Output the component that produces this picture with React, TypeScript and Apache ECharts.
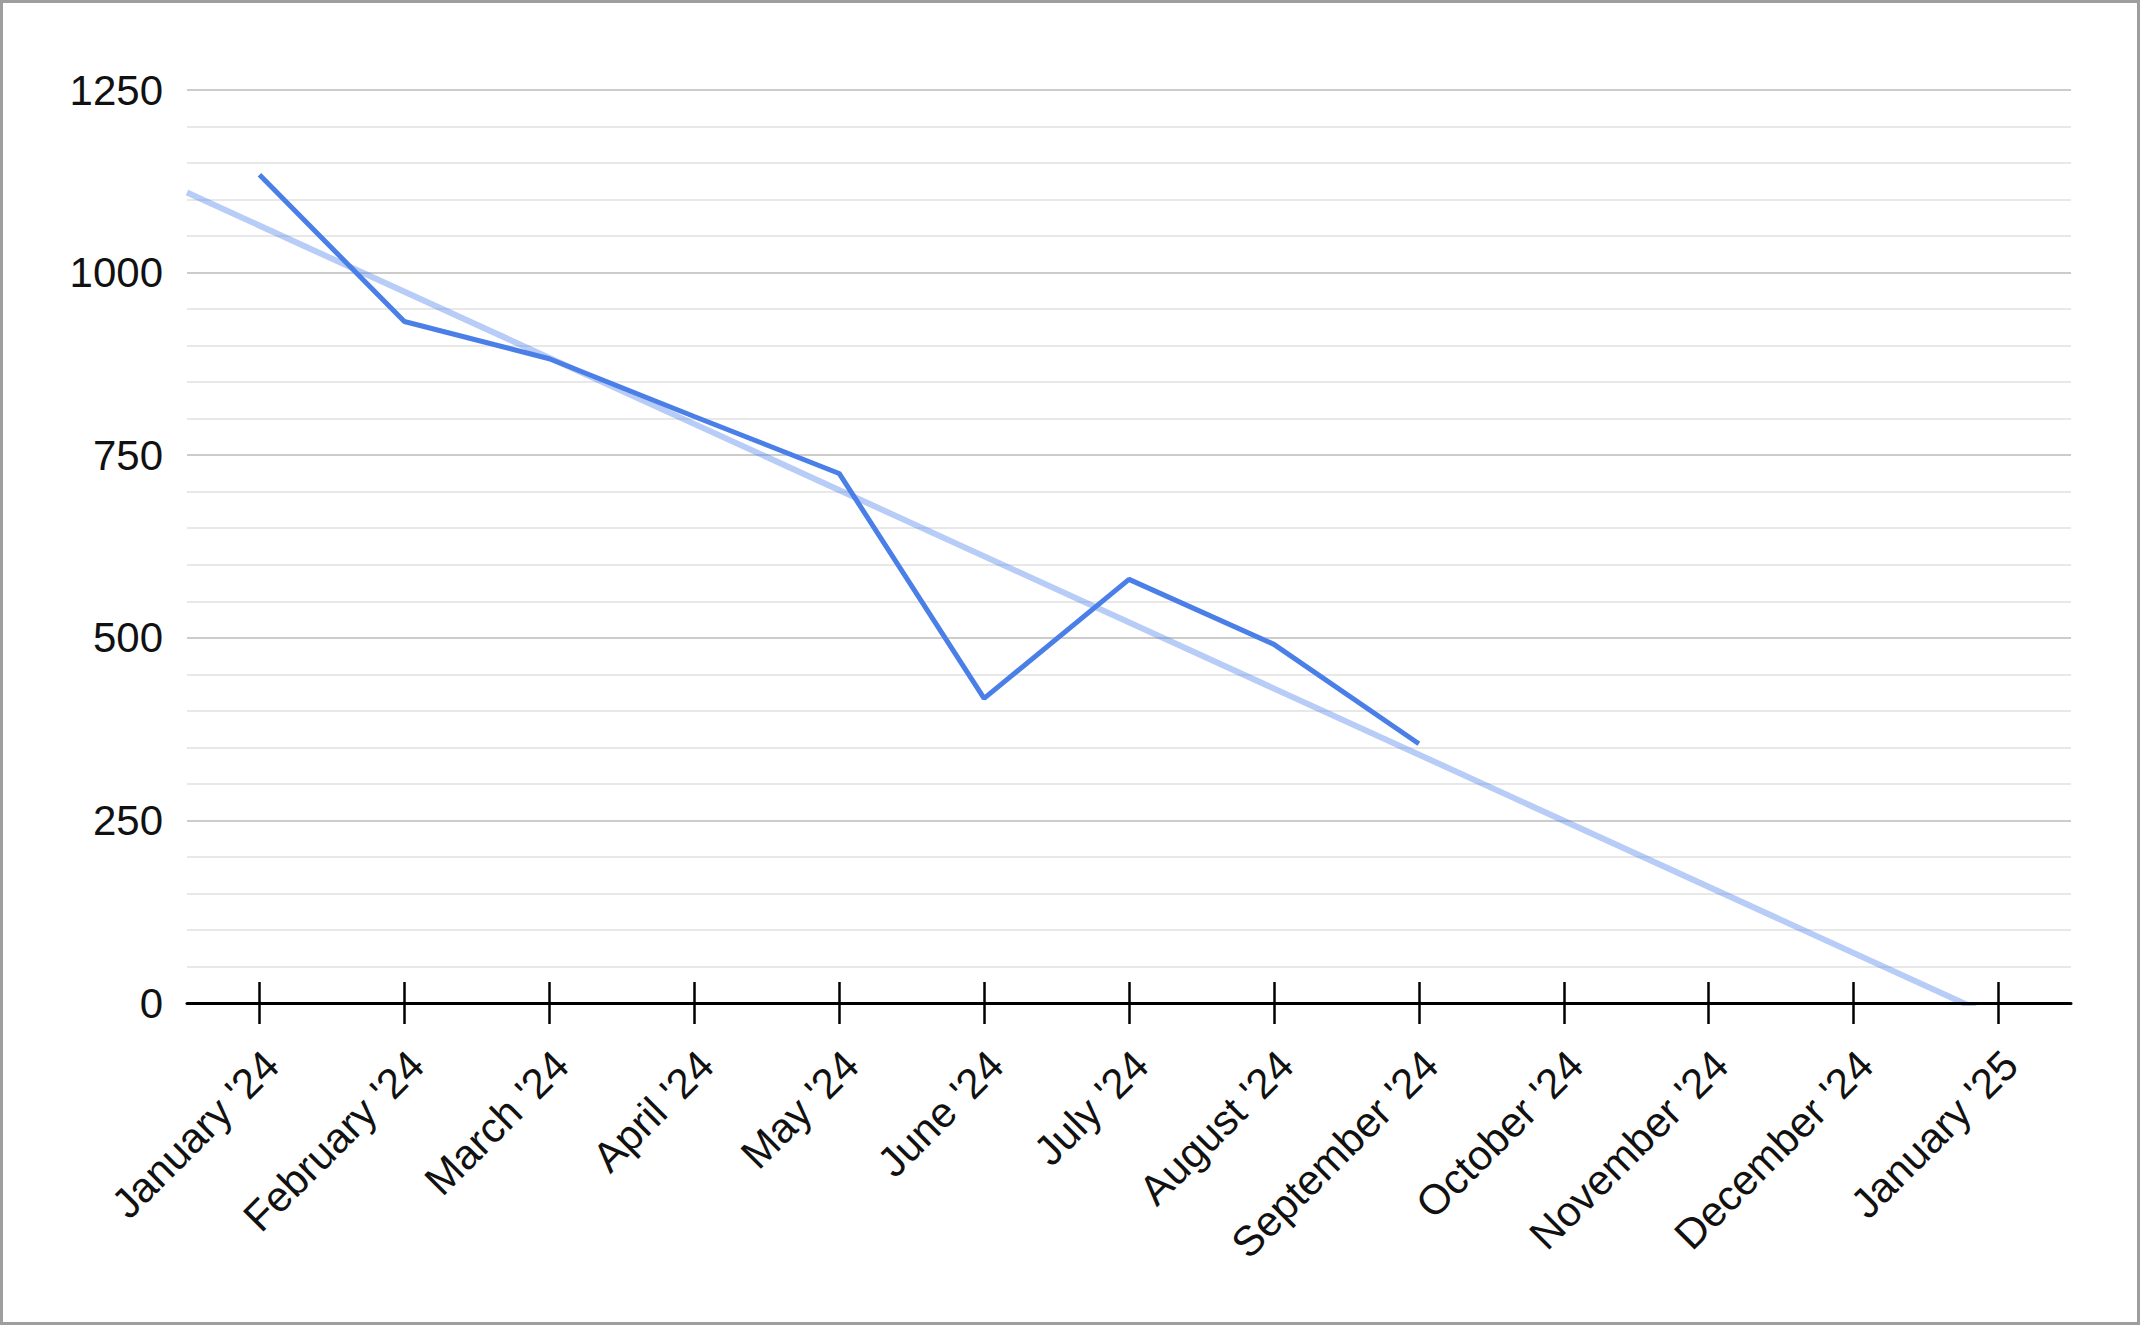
import React, { useEffect, useRef } from "react";
import * as echarts from "echarts";

const categories = [
  "January '24",
  "February '24",
  "March '24",
  "April '24",
  "May '24",
  "June '24",
  "July '24",
  "August '24",
  "September '24",
  "October '24",
  "November '24",
  "December '24",
  "January '25",
];
const values = [1134, 933, 882, 803, 725, 417, 580, 491, 355];
const yMin = 0;
const yMax = 1250;
const yStep = 250;

// Linear least-squares trendline over the month index, as the source chart shows
function trendPoints(): number[][] {
  const n = values.length;
  const mx = (n - 1) / 2;
  const my = values.reduce((a, b) => a + b, 0) / n;
  let sxy = 0;
  let sxx = 0;
  values.forEach((v, i) => {
    sxy += (i - mx) * (v - my);
    sxx += (i - mx) * (i - mx);
  });
  const slope = sxy / sxx;
  const b = my - slope * mx;
  const x0 = -0.5;
  const x1 = categories.length - 0.5;
  return [
    [x0, b + slope * x0],
    [x1, b + slope * x1],
  ];
}

const FONT = "'Liberation Sans', Arial, Helvetica, sans-serif";
const BLUE = "#4a7fe8";
const TEXT = "#111111";

export default function App() {
  const ref = useRef<HTMLDivElement>(null);
  useEffect(() => {
    if (!ref.current) return;
    const chart = echarts.init(ref.current, undefined, { renderer: "svg" });
    chart.setOption({
      animation: false,
      backgroundColor: "#ffffff",
      textStyle: { fontFamily: FONT },
      grid: { left: 187, right: 71, top: 90, bottom: 323, containLabel: false },
      xAxis: [
        {
          type: "category",
          data: categories,
          position: "bottom",
          boundaryGap: true,
          axisLine: { show: true, lineStyle: { color: "#000000", width: 3 } },
          axisTick: {
            show: true,
            alignWithLabel: true,
            length: 21,
            lineStyle: { color: "#000000", width: 2.5 },
          },
          axisLabel: {
            show: true,
            interval: 0,
            rotate: 45,
            margin: 67,
            padding: [0, -17, 0, 0],
            fontSize: 42,
            color: TEXT,
            fontFamily: FONT,
          },
          splitLine: { show: false },
          z: 5,
        },
        {
          type: "category",
          data: categories,
          position: "bottom",
          boundaryGap: true,
          axisLine: { show: false },
          axisTick: {
            show: true,
            inside: true,
            alignWithLabel: true,
            length: 21,
            lineStyle: { color: "#000000", width: 2.5 },
          },
          axisLabel: { show: false },
          splitLine: { show: false },
          z: 5,
        },
        {
          type: "value",
          min: -0.5,
          max: categories.length - 0.5,
          show: false,
          position: "bottom",
          splitLine: { show: false },
        },
      ],
      yAxis: {
        type: "value",
        min: yMin,
        max: yMax,
        interval: yStep,
        axisLine: { show: false },
        axisTick: { show: false },
        axisLabel: {
          fontSize: 42,
          margin: 24,
          color: TEXT,
          fontFamily: FONT,
          formatter: (v: number) => String(v),
        },
        splitLine: { show: true, lineStyle: { color: "#cccccc", width: 2 } },
        minorTick: { show: false, splitNumber: 5 },
        minorSplitLine: { show: true, lineStyle: { color: "#e8e8e8", width: 2 } },
      },
      series: [
        {
          name: "Trendline",
          type: "line",
          xAxisIndex: 2,
          data: trendPoints(),
          symbol: "none",
          clip: true,
          lineStyle: { color: BLUE, width: 6, opacity: 0.4 },
          z: 2,
        },
        {
          name: "Value",
          type: "line",
          xAxisIndex: 0,
          data: values,
          symbol: "none",
          lineStyle: { color: BLUE, width: 5 },
          z: 3,
        },
      ],
    });
    return () => chart.dispose();
  }, []);

  return (
    <div style={{ position: "fixed", left: 0, top: 0, width: 2142, height: 1326, background: "#fff" }}>
      <div ref={ref} style={{ position: "absolute", left: 0, top: 0, width: 2142, height: 1326 }} />
      <div
        style={{
          position: "absolute",
          left: 0,
          top: 0,
          width: 2140,
          height: 1325,
          boxSizing: "border-box",
          border: "3px solid #9e9e9e",
          pointerEvents: "none",
        }}
      />
    </div>
  );
}
